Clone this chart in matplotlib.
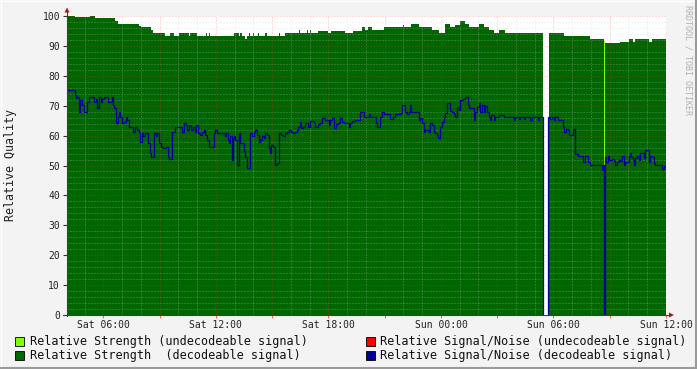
import numpy as np
import matplotlib
matplotlib.use("Agg")
import matplotlib.pyplot as plt
from matplotlib.patches import Rectangle, Polygon
from matplotlib.lines import Line2D
from matplotlib.ticker import MultipleLocator, FuncFormatter

nan = float("nan")

# time in hours since Sat 00:00
t_start = 4.06
t_end = 36.0

tick_hours = [6, 12, 18, 24, 30, 36]
tick_labels = ["Sat 06:00", "Sat 12:00", "Sat 18:00", "Sun 00:00", "Sun 06:00", "Sun 12:00"]

# relative strength, decodeable signal (step values: value holds from hour until next hour)
strength = [
    (4.06, 100), (4.47, 99.5), (5.26, 100), (5.54, 99.3), (6.06, 100), (6.10, 99.3),
    (6.64, 98.3), (6.78, 97.3), (7.92, 96.8), (8.01, 96.3), (8.56, 95.3), (8.65, 94.2),
    (9.27, 93.4), (9.57, 94.2), (9.75, 93.4), (10.02, 94.2), (10.55, 93.4), (10.62, 94.2),
    (11.00, 93.4), (11.48, 94.2), (11.55, 93.4), (11.62, 94.2), (11.67, 93.4), (12.95, 94.2),
    (13.22, 93.4), (13.31, 94.2), (13.40, 93.4), (13.57, 92.4), (13.68, 93.4), (13.75, 94.2),
    (13.84, 93.4), (13.96, 94.2), (14.03, 93.4), (14.25, 94.2), (14.32, 93.4), (14.64, 94.2),
    (14.73, 93.4), (15.35, 94.2), (15.44, 93.4), (15.67, 94.2), (16.42, 95.3), (16.51, 94.2),
    (16.86, 95.3), (16.91, 94.2), (17.04, 95.3), (17.09, 94.2), (17.45, 95.1), (17.98, 94.2),
    (18.16, 95.1), (18.90, 94.2), (19.31, 95.1), (19.79, 96.2), (19.97, 95.3), (20.11, 96.2),
    (20.32, 95.3), (20.95, 96.2), (21.98, 97.1), (22.05, 96.2), (22.40, 97.3), (22.81, 96.2),
    (23.52, 95.3), (23.88, 94.2), (24.20, 97.3), (24.50, 96.2), (24.77, 97.1), (25.03, 98.3),
    (25.30, 97.3), (25.48, 96.2), (26.01, 97.3), (26.28, 96.2), (26.54, 95.3), (26.81, 94.2),
    (27.08, 95.3), (27.43, 94.2), (29.44, nan), (29.74, 94.2), (30.54, 93.4), (31.34, 93.2),
    (31.96, 92.4), (32.68, 0), (32.75, 90.9), (33.56, 91.4), (33.83, 91.2), (34.01, 92.2),
    (34.22, 91.2), (34.36, 92.2), (35.07, 91.4), (35.25, 92.2),
]

# relative strength, undecodeable signal
strength_undec = [(4.06, 0), (32.67, 91.5), (32.77, 0)]

# relative signal/noise, decodeable signal
snr = [
    (4.06, 75.1), (4.47, 73.6), (4.55, 72.7), (4.60, 73.0), (4.68, 68.0), (4.74, 71.9),
    (4.86, 70.2), (4.97, 68.0), (5.12, 71.3), (5.25, 73.0), (5.50, 71.3), (5.58, 72.4),
    (5.68, 69.1), (5.76, 73.0), (5.86, 71.3), (5.93, 72.4), (6.03, 73.0), (6.22, 71.3),
    (6.44, 73.0), (6.52, 70.2), (6.58, 69.1), (6.66, 64.1), (6.76, 66.3), (6.83, 68.0),
    (6.90, 66.3), (7.00, 64.1), (7.08, 64.7), (7.18, 66.3), (7.26, 65.2), (7.36, 63.0),
    (7.60, 61.3), (7.66, 63.0), (7.80, 61.9), (7.88, 61.3), (7.96, 58.0), (8.04, 60.8),
    (8.13, 59.7), (8.22, 60.8), (8.38, 57.4), (8.48, 54.1), (8.56, 53.0), (8.70, 60.8),
    (8.80, 59.7), (8.88, 60.8), (8.96, 57.4), (9.06, 56.3), (9.18, 55.8), (9.36, 56.3),
    (9.42, 53.0), (9.50, 52.2), (9.68, 61.3), (9.80, 63.0), (10.20, 61.3), (10.30, 64.1),
    (10.40, 63.6), (10.48, 61.9), (10.56, 63.6), (10.66, 61.9), (10.78, 63.0), (10.88, 61.3),
    (10.96, 63.6), (11.05, 60.8), (11.14, 60.2), (11.24, 61.3), (11.35, 61.9), (11.44, 60.2),
    (11.52, 58.6), (11.64, 56.3), (11.88, 60.8), (11.97, 61.9), (12.06, 60.8), (12.47, 59.7),
    (12.54, 60.8), (12.63, 58.6), (12.68, 57.4), (12.77, 59.7), (12.86, 51.9), (12.91, 59.1),
    (12.99, 59.7), (13.04, 58.6), (13.13, 50.2), (13.22, 60.8), (13.31, 57.4), (13.48, 54.7),
    (13.57, 53.0), (13.68, 49.1), (13.84, 60.8), (13.93, 59.7), (14.02, 61.3), (14.11, 61.9),
    (14.19, 60.2), (14.28, 58.0), (14.37, 58.6), (14.46, 59.7), (14.55, 59.1), (14.64, 60.8),
    (14.73, 60.2), (14.82, 55.8), (14.91, 54.1), (14.96, 56.9), (15.05, 56.3), (15.17, 50.2),
    (15.28, 50.8), (15.39, 60.8), (15.47, 60.2), (15.56, 59.7), (15.67, 60.8), (15.79, 61.3),
    (15.88, 61.9), (16.03, 61.3), (16.10, 60.8), (16.24, 61.3), (16.33, 61.9), (16.38, 63.0),
    (16.47, 64.7), (16.56, 62.4), (16.63, 63.0), (16.77, 64.1), (16.91, 63.0), (17.04, 64.9),
    (17.22, 64.1), (17.30, 63.0), (17.45, 63.8), (17.57, 64.1), (17.66, 66.0), (17.84, 65.2),
    (18.05, 63.6), (18.10, 65.2), (18.19, 65.8), (18.28, 62.4), (18.41, 63.8), (18.51, 64.1),
    (18.60, 66.0), (18.73, 64.7), (18.81, 64.1), (19.08, 63.0), (19.17, 64.1), (19.26, 64.9),
    (19.44, 65.2), (19.67, 68.0), (19.79, 67.8), (19.88, 66.3), (20.15, 67.1), (20.23, 66.3),
    (20.54, 64.1), (20.59, 63.0), (20.77, 66.3), (20.86, 68.0), (20.95, 67.1), (21.30, 65.6),
    (21.43, 66.3), (21.53, 67.1), (21.83, 67.4), (21.92, 70.2), (22.06, 68.0), (22.19, 67.1),
    (22.28, 68.0), (22.33, 70.2), (22.40, 68.0), (22.81, 65.2), (22.90, 66.0), (22.99, 64.1),
    (23.08, 61.3), (23.16, 61.9), (23.34, 61.3), (23.43, 64.1), (23.52, 63.6), (23.61, 61.3),
    (23.70, 60.8), (23.79, 60.2), (23.84, 59.1), (23.93, 63.0), (24.06, 64.7), (24.14, 66.3),
    (24.23, 67.4), (24.32, 70.8), (24.50, 68.2), (24.59, 68.0), (24.68, 67.1), (24.77, 66.3),
    (24.85, 69.7), (24.94, 68.6), (25.03, 71.9), (25.16, 72.2), (25.26, 73.0), (25.44, 70.2),
    (25.51, 69.1), (25.74, 65.2), (25.80, 68.0), (25.92, 69.7), (26.01, 70.8), (26.10, 68.0),
    (26.19, 70.2), (26.28, 68.0), (26.37, 70.0), (26.45, 68.0), (26.54, 66.3), (26.63, 65.2),
    (26.69, 66.9), (26.81, 65.2), (26.90, 66.3), (27.08, 66.9), (27.34, 66.3), (27.88, 65.2),
    (27.93, 66.1), (28.15, 65.6), (28.23, 66.1), (28.41, 65.6), (28.50, 66.1), (28.77, 65.2),
    (28.86, 66.1), (29.18, 65.2), (29.25, 66.1), (29.43, 0), (29.45, nan), (29.69, 0),
    (29.71, 66.1), (29.83, 65.6), (29.92, 66.1), (30.01, 65.2), (30.10, 66.1), (30.24, 65.2),
    (30.49, 63.0), (30.54, 61.1), (30.67, 62.2), (30.78, 61.9), (30.85, 60.2), (31.04, 62.2),
    (31.13, 61.3), (31.17, 53.8), (31.29, 53.2), (31.58, 51.3), (31.66, 53.2), (31.84, 51.3),
    (31.97, 50.2), (32.59, 48.6), (32.64, 50.2), (32.68, 0), (32.75, 53.0), (32.80, 51.3),
    (32.89, 53.2), (32.98, 51.9), (33.12, 52.2), (33.21, 51.6), (33.30, 50.2), (33.39, 51.3),
    (33.48, 51.9), (33.57, 51.6), (33.65, 53.2), (33.74, 50.2), (33.83, 51.1), (34.01, 53.2),
    (34.06, 54.1), (34.13, 52.7), (34.22, 51.9), (34.31, 50.2), (34.37, 52.4), (34.45, 53.3),
    (34.54, 51.9), (34.63, 54.1), (34.84, 52.4), (34.90, 55.2), (35.11, 51.3), (35.17, 53.2),
    (35.25, 53.0), (35.34, 51.0), (35.43, 50.2), (35.79, 48.9), (35.88, 50.0),
]

legend_labels = [
    "Relative Strength (undecodeable signal)",
    "Relative Signal/Noise (undecodeable signal)",
    "Relative Strength  (decodeable signal)",
    "Relative Signal/Noise (decodeable signal)",
]
legend_colors = ["#80FF00", "#FF0000", "#006600", "#000099"]

C_DARK = "#006600"
C_LIGHT = "#80FF00"
C_BLUE = "#000099"
C_ARROW = "#9E1B1B"


def steps(pairs):
    t = [p[0] for p in pairs] + [t_end]
    v = [p[1] for p in pairs] + [pairs[-1][1]]
    return np.array(t, dtype=float), np.array(v, dtype=float)


def segments(pairs):
    # split a step series at unknown (nan) samples, so each piece fills up to the gap
    out, cur = [], []
    for h, val in pairs:
        if np.isnan(val):
            if cur:
                out.append((cur, h))
            cur = []
        else:
            cur.append((h, val))
    if cur:
        out.append((cur, t_end))
    for piece, stop in out:
        t = [p[0] for p in piece] + [stop]
        v = [p[1] for p in piece] + [piece[-1][1]]
        yield np.array(t), np.array(v, dtype=float)


W, H = 697, 369
plt.rcParams["font.family"] = ["DejaVu Sans Mono"]
fig = plt.figure(figsize=(W / 100, H / 100), dpi=100)
fig.patch.set_facecolor("#F3F3F3")


def fx(px):
    return px / W


def fy(py):
    return 1 - py / H


ax = fig.add_axes([fx(67), fy(315), 599 / W, 299 / H])
ax.set_facecolor("white")

for t, v in segments(strength):
    ax.fill_between(t, 0, v, step="post", color=C_DARK, lw=0, zorder=1)
for t, v in segments(strength_undec):
    ax.fill_between(t, 0, v, step="post", color=C_LIGHT, lw=0, zorder=1)
t, v = steps(snr)
ax.plot(t, v, drawstyle="steps-post", color=C_BLUE, lw=0.9, zorder=4)

ax.set_xlim(t_start, t_end)
ax.set_ylim(0, 100)

ax.xaxis.set_major_locator(MultipleLocator(3))
ax.xaxis.set_minor_locator(MultipleLocator(1))
ax.yaxis.set_major_locator(MultipleLocator(10))
ax.yaxis.set_minor_locator(MultipleLocator(2))
lbl = dict(zip(tick_hours, tick_labels))
ax.xaxis.set_major_formatter(FuncFormatter(lambda x, _: lbl.get(int(round(x)), "")))
ax.yaxis.set_major_formatter(FuncFormatter(lambda y, _: "%d" % y))

ax.set_axisbelow(False)
ax.grid(which="minor", color="#C8C8C8", alpha=0.45, lw=0.72, ls=(0, (1, 2)), zorder=2)
ax.grid(which="major", color="#FF3030", alpha=0.35, lw=0.72, ls=(0, (1, 2)), zorder=2)

for s in ax.spines.values():
    s.set_visible(False)

ax.tick_params(axis="x", which="major", length=2, color="#FF6666", labelsize=7, pad=1.5,
               labelcolor="#222222")
ax.tick_params(axis="x", which="minor", length=0)
ax.tick_params(axis="y", which="major", length=3, color="#333333", labelsize=7, pad=2,
               labelcolor="#222222")
ax.tick_params(axis="y", which="minor", length=0)

fig.text(fx(11), fy(165), "Relative Quality", rotation=90, fontsize=8.4,
         ha="center", va="center", color="#222222")

# axis lines with arrow heads
fig.add_artist(Line2D([fx(67), fx(67)], [fy(316), fy(11)], color="#404040", lw=0.8))
fig.add_artist(Line2D([fx(63), fx(670)], [fy(315), fy(315)], color="#404040", lw=0.8))
fig.add_artist(Polygon([[fx(64.5), fy(12.5)], [fx(69.5), fy(12.5)], [fx(67), fy(7.5)]],
                       closed=True, color=C_ARROW, lw=0))
fig.add_artist(Polygon([[fx(669), fy(312.5)], [fx(669), fy(317.5)], [fx(674), fy(315)]],
                       closed=True, color=C_ARROW, lw=0))

# watermark
fig.text(fx(688), fy(5), "RRDTOOL / TOBI OETIKER", rotation=-90, fontsize=6.0,
         color="#B0B0B0", ha="center", va="top")

# legend
rows = [341, 355]
cols = [(15, 30), (366, 380)]
for i, (label, color) in enumerate(zip(legend_labels, legend_colors)):
    bx, tx = cols[i % 2]
    ry = rows[i // 2]
    fig.add_artist(Rectangle((fx(bx), fy(ry + 4.5)), 9 / W, 9 / H, transform=fig.transFigure,
                             facecolor=color, edgecolor="black", lw=0.6))
    fig.text(fx(tx), fy(ry), label, fontsize=8.45, ha="left", va="center", color="#111111")

# frame
fig.add_artist(Line2D([0, 1], [fy(0.5), fy(0.5)], color="#FFFFFF", lw=1))
fig.add_artist(Line2D([fx(0.5), fx(0.5)], [0, 1], color="#FFFFFF", lw=1))
fig.add_artist(Line2D([0, 1], [fy(368), fy(368)], color="#9A9A9A", lw=1.5))
fig.add_artist(Line2D([fx(696), fx(696)], [0, 1], color="#9A9A9A", lw=1.5))

fig.savefig("out.png", dpi=100, facecolor=fig.get_facecolor())
